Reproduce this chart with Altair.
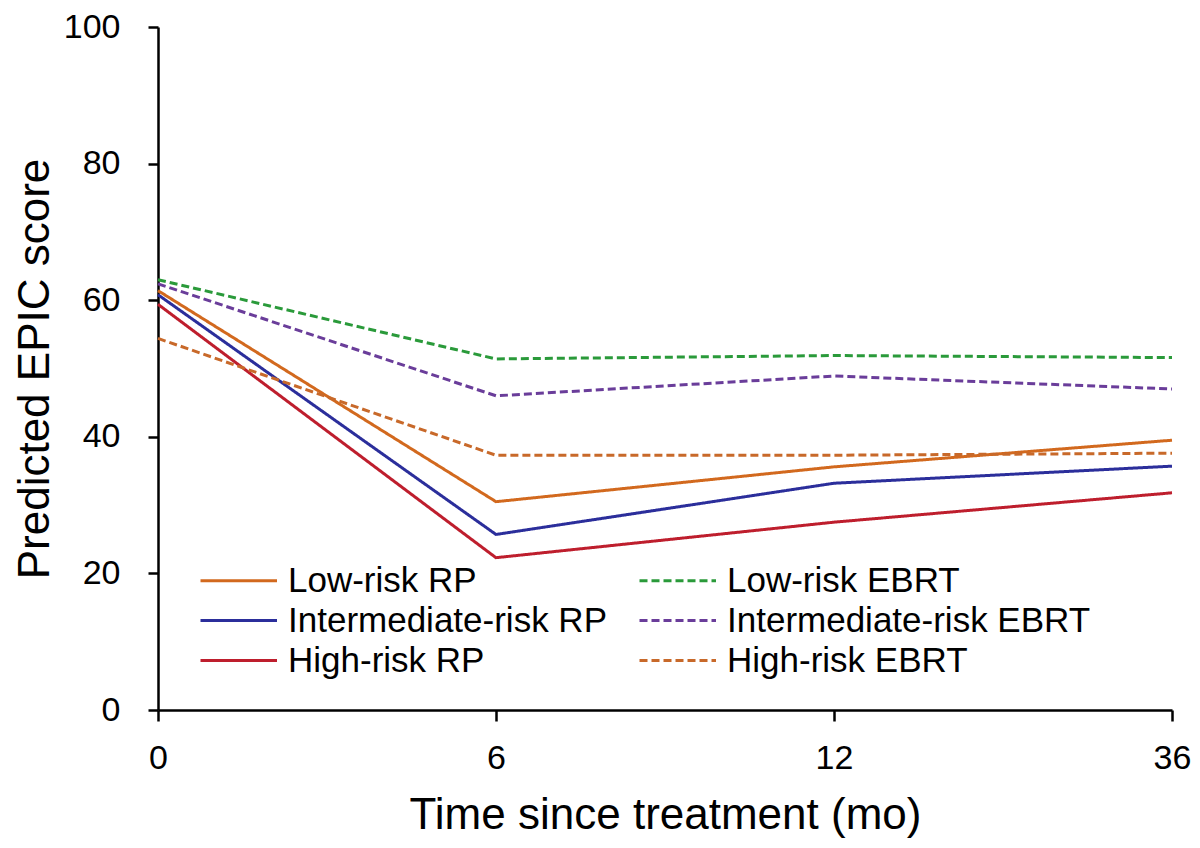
import altair as alt
import pandas as pd

times = ["0", "6", "12", "36"]
series = ["Low-risk RP", "Intermediate-risk RP", "High-risk RP",
          "Low-risk EBRT", "Intermediate-risk EBRT", "High-risk EBRT"]
low_rp = [61.4, 30.5, 35.6, 39.5]
int_rp = [60.8, 25.7, 33.2, 35.7]
high_rp = [59.4, 22.3, 27.5, 31.8]
low_ebrt = [63.0, 51.4, 51.9, 51.6]
int_ebrt = [62.4, 46.0, 48.9, 47.0]
high_ebrt = [54.4, 37.3, 37.3, 37.6]
colors = ["#D2691E", "#2B2E9B", "#BE1E2D", "#2A9A3A", "#6A3D9A", "#C8692A"]
dashes = [[1, 0], [1, 0], [1, 0], [8, 4], [8, 4], [8, 4]]

values = [low_rp, int_rp, high_rp, low_ebrt, int_ebrt, high_ebrt]
rows = []
for s, vals in zip(series, values):
    for t, v in zip(times, vals):
        rows.append({"time": t, "series": s, "score": v})
df = pd.DataFrame(rows)

FONT = "Liberation Sans"


def make_legend():
    return alt.Legend(title=None, orient="none", legendX=25, legendY=536,
                      columns=2, symbolType="M0,0H9", symbolSize=289,
                      symbolStrokeWidth=3, labelFontSize=35, labelFont=FONT,
                      labelColor="black", labelOffset=70, labelLimit=500,
                      columnPadding=15, rowPadding=4, padding=0)


chart = alt.Chart(df).mark_line(strokeWidth=3).encode(
    x=alt.X("time:O", sort=times,
            scale=alt.Scale(type="point", padding=0),
            axis=alt.Axis(title="Time since treatment (mo)", labelAngle=0,
                          labelFontSize=34, titleFontSize=44, titleFontWeight="normal",
                          tickSize=11, labelPadding=20, titlePadding=18,
                          domainColor="black", tickColor="black", domainWidth=2.5, tickWidth=2.5,
                          labelColor="black", titleColor="black", grid=False)),
    y=alt.Y("score:Q", scale=alt.Scale(domain=[0, 100]),
            axis=alt.Axis(title="Predicted EPIC score", values=[0, 20, 40, 60, 80, 100],
                          labelFontSize=34, titleFontSize=44, titleFontWeight="normal",
                          tickSize=10, labelPadding=28, titlePadding=6,
                          domainColor="black", tickColor="black", domainWidth=2.5, tickWidth=2.5,
                          labelColor="black", titleColor="black", grid=False)),
    color=alt.Color("series:N", sort=series,
                    scale=alt.Scale(domain=series, range=colors),
                    legend=make_legend()),
    strokeDash=alt.StrokeDash("series:N", sort=series,
                              scale=alt.Scale(domain=series, range=dashes),
                              legend=make_legend()),
).properties(
    width=1014, height=683,
    autosize=alt.AutoSizeParams(type="none"),
    padding={"left": 150, "top": 19, "right": 20, "bottom": 130},
).configure(font=FONT).configure_view(stroke=None).configure_axis(labelFont=FONT, titleFont=FONT)

chart.save("out.html", embed_options={"renderer": "svg", "actions": False})
